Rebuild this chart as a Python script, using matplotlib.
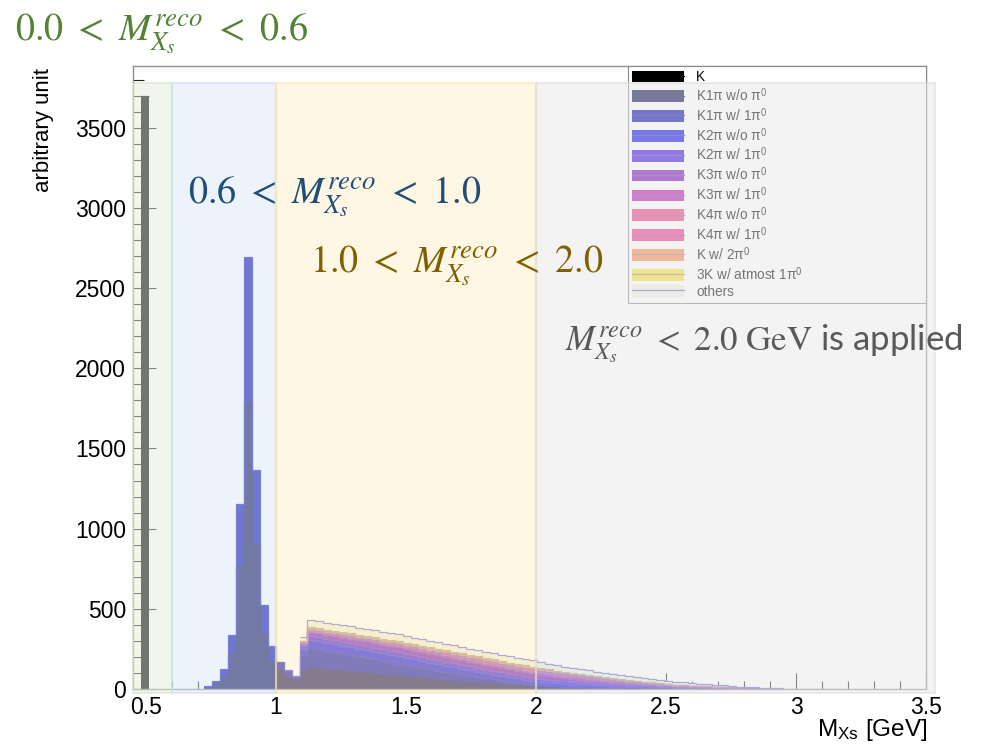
import matplotlib
matplotlib.use('Agg')
import matplotlib.pyplot as plt
import matplotlib.transforms as mtransforms
from matplotlib.patches import Patch, Rectangle
from matplotlib.lines import Line2D
from matplotlib.legend_handler import HandlerTuple
from matplotlib.ticker import MultipleLocator, FuncFormatter
import numpy as np

plt.rcParams['font.family'] = ['Liberation Sans', 'DejaVu Sans']
plt.rcParams['mathtext.fontset'] = 'stix'

# histogram binning: 100 bins in M_Xs
N_BINS = 100
X_LO, X_HI = 0.45, 3.5

# per-mode counts, each list starts at the given bin index
k_first, k_counts = 1, [3700]
k1pi_wo_first, k1pi_wo = 9, [8, 30, 77, 216, 766, 1789, 903, 347, 176, 120, 75, 50, 115,
    130, 126, 121, 117, 112, 108, 103, 99, 94, 90, 85, 81, 76, 72, 67, 63, 58, 54, 50, 46,
    42, 38, 34, 30, 27, 23, 20, 17, 14, 12, 10, 8, 7, 6, 5, 4, 3, 3, 2, 2, 1, 1, 1, 1]
k1pi_w_first, k1pi_w = 9, [12, 22, 47, 120, 390, 903, 465, 176, 94, 50, 35, 25, 95,
    125, 121, 117, 113, 108, 104, 100, 96, 91, 87, 83, 78, 74, 70, 66, 61, 57, 53, 49, 45,
    41, 37, 33, 30, 26, 23, 20, 17, 15, 13, 11, 9, 8, 7, 6, 5, 4, 4, 3, 3, 2, 2, 1, 1, 1, 1]
k2pi_wo_first, k2pi_wo = 19, [8, 8, 38,
    50, 50, 49, 49, 48, 48, 47, 47, 46, 45, 45, 44, 43, 42, 41, 40, 39, 38, 37, 35, 34, 33,
    31, 30, 29, 27, 26, 24, 22, 21, 19, 18, 16, 15, 14, 13, 12, 11, 10, 9, 8, 7, 7, 6, 5, 5,
    4, 4, 3, 3, 2, 2, 2, 1, 1, 1]
k2pi_w_first, k2pi_w = 21, [18, 26, 26, 27, 27, 27, 27, 27, 27, 27, 27, 27, 27, 27, 26, 26,
    26, 26, 25, 25, 25, 24, 24, 23, 23, 22, 22, 21, 21, 20, 19, 18, 17, 16, 15, 14, 13, 12,
    11, 10, 9, 8, 7, 7, 6, 5, 5, 4, 4, 3, 3, 3, 2, 2, 2, 1, 1, 1]
k3pi_wo_first, k3pi_wo = 21, [16, 24, 25, 25, 26, 26, 27, 27, 28, 28, 28, 29, 29, 29, 29, 29,
    29, 29, 29, 29, 29, 29, 28, 28, 28, 28, 27, 27, 26, 26, 25, 24, 23, 22, 21, 20, 18, 17,
    16, 15, 14, 13, 12, 11, 10, 9, 8, 7, 7, 6, 5, 5, 4, 4, 3, 3, 2, 2, 2, 1, 1]
k3pi_w_first, k3pi_w = 21, [4, 6, 6, 6, 7, 7, 7, 7, 8, 8, 8, 8, 9, 9, 9, 9, 9, 10, 10, 10, 10,
    10, 10, 10, 10, 10, 10, 10, 10, 10, 10, 10, 9, 9, 9, 8, 8, 8, 7, 7, 6, 6, 5, 5, 5, 4, 4,
    3, 3, 3, 2, 2, 2, 2, 1, 1, 1, 1]
k4pi_wo_first, k4pi_wo = 21, [2, 3, 3, 3, 3, 3, 4, 4, 4, 4, 4, 5, 5, 5, 5, 5, 6, 6, 6, 6, 6,
    6, 7, 7, 7, 7, 7, 7, 7, 7, 7, 7, 7, 6, 6, 6, 6, 5, 5, 5, 4, 4, 4, 3, 3, 3, 3, 2, 2, 2, 2,
    1, 1, 1, 1]
k4pi_w_first, k4pi_w = 21, [2, 3, 3, 3, 3, 4, 4, 4, 4, 5, 5, 5, 5, 6, 6, 6, 6, 6, 7, 7, 7, 7,
    7, 8, 8, 8, 8, 8, 8, 8, 8, 8, 8, 7, 7, 7, 7, 6, 6, 6, 5, 5, 5, 4, 4, 4, 3, 3, 3, 2, 2, 2,
    1, 1, 1, 1]
k_2pi0_first, k_2pi0 = 21, [8, 12, 12, 12, 12, 13, 13, 13, 13, 13, 13, 13, 13, 13, 13, 13, 13,
    13, 13, 13, 13, 13, 13, 13, 13, 12, 12, 12, 12, 12, 11, 11, 10, 10, 9, 9, 8, 8, 7, 7, 6,
    6, 5, 5, 4, 4, 3, 3, 3, 2, 2, 2, 1, 1, 1]
k3_first, k3 = 21, [4, 6, 6, 6, 6, 6, 6, 6, 7, 7, 7, 7, 7, 7, 7, 7, 7, 7, 7, 7, 6, 6, 6, 6, 6,
    6, 6, 6, 6, 6, 6, 5, 5, 5, 4, 4, 4, 3, 3, 3, 2, 2, 2, 2, 1, 1, 1, 1]
others_first, others = 21, [20, 45, 45, 45, 44, 44, 44, 44, 43, 43, 43, 43, 42, 42, 42, 42, 41,
    41, 41, 41, 40, 40, 40, 40, 39, 39, 39, 38, 38, 38, 37, 36, 35, 34, 33, 32, 31, 30, 29,
    28, 27, 26, 25, 24, 23, 22, 20, 18, 17, 15, 14, 12, 11, 10, 9, 8, 7, 6, 5, 5, 4, 3, 3, 2,
    2, 1, 1, 1]

labels = ['K',
          r'K1π w/o π$^{\mathregular{0}}$', r'K1π w/ 1π$^{\mathregular{0}}$',
          r'K2π w/o π$^{\mathregular{0}}$', r'K2π w/ 1π$^{\mathregular{0}}$',
          r'K3π w/o π$^{\mathregular{0}}$', r'K3π w/ 1π$^{\mathregular{0}}$',
          r'K4π w/o π$^{\mathregular{0}}$', r'K4π w/ 1π$^{\mathregular{0}}$',
          r'K w/ 2π$^{\mathregular{0}}$', r'3K w/ atmost 1π$^{\mathregular{0}}$', 'others']
fill_colors = ['#000000', '#0a0a50', '#0505aa', '#0808e4', '#3a08e0', '#7a08b8',
               '#b616a6', '#ee3a7a', '#ee3280', '#f6884a', '#f6dc3a', '#eeeedc']
line_colors = ['#000000', '#0a0a50', '#1818b0', '#2a2ad8', '#4a30c8', '#6a3ab8',
               '#8a40b0', '#a050a8', '#9048b0', '#a07890', '#a0a070', '#6a6ad8']

starts = [k_first, k1pi_wo_first, k1pi_w_first, k2pi_wo_first, k2pi_w_first,
          k3pi_wo_first, k3pi_w_first, k4pi_wo_first, k4pi_w_first, k_2pi0_first,
          k3_first, others_first]
counts = [k_counts, k1pi_wo, k1pi_w, k2pi_wo, k2pi_w, k3pi_wo, k3pi_w, k4pi_wo,
          k4pi_w, k_2pi0, k3, others]


def to_bins(first, vals):
    h = np.zeros(N_BINS)
    h[first:first + len(vals)] = vals
    return h


edges = np.linspace(X_LO, X_HI, N_BINS + 1)

fig = plt.figure(figsize=(9.87, 7.47), dpi=100)
ax = fig.add_axes([133 / 987, 1 - 689 / 747, 793 / 987, 623 / 747])

# stacked histogram, first mode at the bottom
bottom = np.zeros(N_BINS)
handles = []
for first, vals, fc, lc in zip(starts, counts, fill_colors, line_colors):
    h = to_bins(first, vals)
    top = bottom + h
    ax.stairs(top, edges, baseline=bottom, fill=True, color=fc, lw=0, zorder=2)
    ax.stairs(np.where(h > 0, top, np.nan), edges, baseline=None, color=lc, lw=0.9, zorder=2.1)
    handles.append((Patch(facecolor=fc, edgecolor='none'), Line2D([], [], color=lc, lw=0.9)))
    bottom = top

ax.set_xlim(X_LO, X_HI)
ax.set_ylim(0, 3885)
ax.xaxis.set_major_locator(MultipleLocator(0.5))
ax.xaxis.set_minor_locator(MultipleLocator(0.1))
ax.yaxis.set_major_locator(MultipleLocator(500))
ax.yaxis.set_minor_locator(MultipleLocator(100))
ax.xaxis.set_major_formatter(FuncFormatter(lambda v, p: '%g' % v))
ax.tick_params(axis='both', which='both', direction='in', color='#222222', width=0.8,
               labelsize=16.5)
ax.tick_params(axis='x', which='major', length=11.5, pad=5)
ax.tick_params(axis='x', which='minor', length=5.5)
ax.tick_params(axis='y', which='major', length=16.5, pad=5)
ax.tick_params(axis='y', which='minor', length=8)
for sp in ax.spines.values():
    sp.set_color('#909090')
    sp.set_linewidth(1)

leg = ax.legend(handles, labels, loc='upper left', bbox_to_anchor=(0.624, 0.626, 0.376, 0.374),
                mode='expand', borderaxespad=0, fancybox=False, framealpha=1,
                edgecolor='#888888', fontsize=9.8, handlelength=3.8, handleheight=0.95,
                labelspacing=0.15, borderpad=0.3, handletextpad=0.9,
                handler_map={tuple: HandlerTuple(ndivide=1)})
leg.get_frame().set_linewidth(0.8)
leg.set_zorder(5)

fig.text(43 / 987, 1 - 68 / 747, 'arbitrary unit', rotation=90, ha='center', va='top',
         fontsize=16)
fig.text(927 / 987, 1 - 717 / 747, r'M$_{\mathregular{Xs}}$ [GeV]', ha='right', va='top',
         fontsize=17.5)

# shaded mass windows laid over the histogram
trans = mtransforms.blended_transform_factory(ax.transData, ax.transAxes)
windows = [(0.45, 0.6, '#e2efd9', '#cfe4c1'),
           (0.6, 1.0, '#dae9f7', '#c6dbef'),
           (1.0, 2.0, '#ffefc8', '#fbe2a6'),
           (2.0, 3.535, '#e9e9e9', '#dadada')]
for x0, x1, fc, ec in windows:
    ax.add_patch(Rectangle((x0, -0.006), x1 - x0, 0.979, transform=trans, facecolor=fc,
                           edgecolor=ec, alpha=0.5, lw=1.5, zorder=6, clip_on=False))

fig.text(15 / 987, 1 - 40 / 747, r'$0.0\ <\ M_{X_s}^{reco}\ <\ 0.6$', color='#548235',
         fontsize=27.5, va='baseline', zorder=10)
fig.text(188 / 987, 1 - 203 / 747, r'$0.6\ <\ M_{X_s}^{reco}\ <\ 1.0$', color='#1f4e79',
         fontsize=27.5, va='baseline', zorder=10)
fig.text(310 / 987, 1 - 272 / 747, r'$1.0\ <\ M_{X_s}^{reco}\ <\ 2.0$', color='#7f6000',
         fontsize=27.5, va='baseline', zorder=10)
fig.text(565 / 987, 1 - 350 / 747, r'$M_{X_s}^{reco}\ <\ 2.0\ \mathrm{GeV}$ is applied',
         color='#595959', fontsize=25, va='baseline', family='Lato', zorder=10)

fig.savefig('out.png', dpi=100)
